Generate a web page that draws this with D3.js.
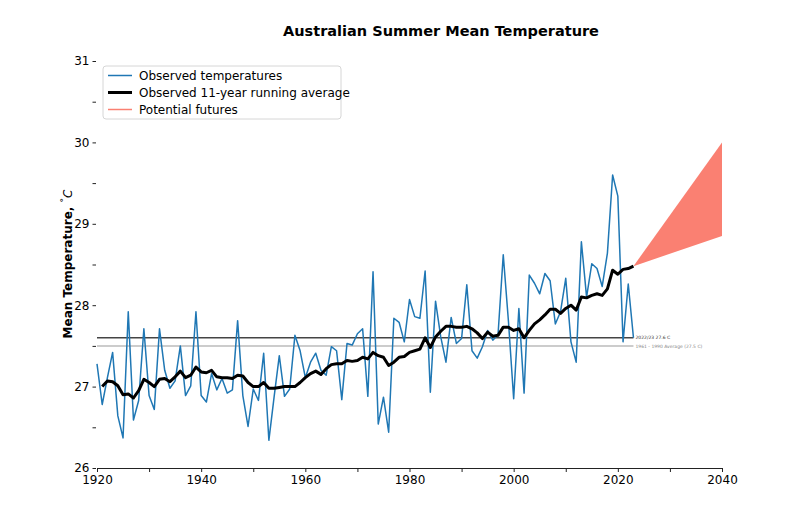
<!DOCTYPE html>
<html>
<head>
<meta charset="utf-8">
<script src="https://cdn.jsdelivr.net/npm/d3@7"></script>
<style>
  body { margin: 0; background: #fff; }
  text { font-family: "DejaVu Sans", sans-serif; }
</style>
</head>
<body>
<svg width="800" height="530"></svg>
<script>
const svg = d3.select('svg');

// observed summer means, 1920..2023
const obsYears = d3.range(1920, 2024);
const obsTemps = [
  27.28, 26.78, 27.11, 27.42, 26.64, 26.37, 27.92, 26.59, 26.83, 27.71,
  26.89, 26.72, 27.71, 27.2, 26.98, 27.07, 27.5, 26.89, 27.01, 27.92,
  26.89, 26.81, 27.16, 26.96, 27.1, 26.92, 26.96, 27.81, 26.89, 26.51,
  26.97, 26.83, 27.41, 26.34, 26.87, 27.38, 26.88, 26.97, 27.63, 27.44,
  27.11, 27.3, 27.41, 27.2, 27.14, 27.49, 27.44, 26.84, 27.53, 27.51,
  27.65, 27.71, 26.88, 28.41, 26.54, 26.87, 26.44, 27.84, 27.79, 27.55,
  28.07, 27.86, 27.84, 28.42, 26.93, 28.05, 27.61, 27.3, 27.85, 27.53,
  27.59, 28.25, 27.44, 27.35, 27.49, 27.69, 27.57, 27.64, 28.62, 27.8,
  26.85, 27.96, 26.92, 28.37, 28.27, 28.14, 28.39, 28.3, 27.77, 27.92,
  28.33, 27.55, 27.3, 28.78, 28.1, 28.51, 28.45, 28.23, 28.64, 29.6,
  29.34, 27.55, 28.26, 27.6
];

// 11-year running average, 1921..2023
const avgYears = d3.range(1921, 2024);
const avgTemps = [
  27.0, 27.07, 27.06, 27.01, 26.9, 26.91, 26.86, 26.95, 27.09,
  27.05, 27.0, 27.09, 27.1, 27.06, 27.12, 27.19, 27.11, 27.14, 27.24,
  27.18, 27.17, 27.2, 27.12, 27.11, 27.11, 27.1, 27.14, 27.13, 27.05,
  27.0, 27.0, 27.05, 26.98, 26.98, 26.99, 27.0, 27.0, 27.0, 27.05,
  27.11, 27.16, 27.19, 27.15, 27.22, 27.27, 27.28, 27.28, 27.32, 27.31,
  27.32, 27.36, 27.34, 27.42, 27.38, 27.36, 27.26, 27.3, 27.36, 27.37,
  27.42, 27.44, 27.46, 27.6, 27.48, 27.61, 27.68, 27.74, 27.74, 27.73,
  27.73, 27.74, 27.71, 27.66, 27.59, 27.67, 27.62, 27.63, 27.73, 27.73,
  27.69, 27.71, 27.6, 27.69, 27.77, 27.82, 27.88, 27.95, 27.95, 27.9,
  27.96, 28.0, 27.94, 28.1, 28.09, 28.12, 28.14, 28.12, 28.2, 28.43,
  28.38, 28.44, 28.45, 28.48
];

// potential futures wedge
const futureYears = [2023, 2040];
const futureLow = [28.48, 28.85];
const futureHigh = [28.48, 30.0];

const refLatest = 27.6;
const refBaseline = 27.5;

const xTicks = [1920, 1940, 1960, 1980, 2000, 2020, 2040];
const xMinor = [1930, 1950, 1970, 1990, 2010, 2030];
const yTicks = [26, 27, 28, 29, 30, 31];
const yMinor = [26.5, 27.5, 28.5, 29.5, 30.5];

const x = d3.scaleLinear().domain([1920, 2040]).range([97, 722]);
const y = d3.scaleLinear().domain([26, 31]).range([468, 61]);

// title
svg.append('text')
  .attr('x', 441).attr('y', 36)
  .attr('text-anchor', 'middle')
  .attr('font-size', 14.5).attr('font-weight', 'bold')
  .text('Australian Summer Mean Temperature');

// y label
const yl = svg.append('text')
  .attr('transform', 'translate(72,264) rotate(-90)')
  .attr('text-anchor', 'middle')
  .attr('font-size', 12).attr('font-weight', 'bold');
yl.append('tspan').text('Mean Temperature, ');
yl.append('tspan').attr('font-weight', 'normal').attr('font-size', 9).attr('dy', -5).text('°');
yl.append('tspan').attr('font-weight', 'normal').attr('font-style', 'italic').attr('dy', 5).text('C');

// x axis
const xAxis = svg.append('g')
  .attr('transform', `translate(0,${y(26)})`)
  .call(d3.axisBottom(x).tickValues(xTicks).tickFormat(d3.format('d')).tickSize(4).tickPadding(3));
xAxis.append('g')
  .call(d3.axisBottom(x).tickValues(xMinor).tickFormat('').tickSize(4))
  .select('.domain').remove();
xAxis.selectAll('text').attr('font-size', 12).attr('fill', '#000').style('font-family', 'DejaVu Sans');
xAxis.selectAll('path, line').attr('stroke', '#222');

// y axis, no spine
const yAxis = svg.append('g')
  .attr('transform', `translate(${x(1920) - 1},0)`)
  .call(d3.axisLeft(y).tickValues(yTicks).tickFormat(d3.format('d')).tickSize(3.5).tickPadding(3));
yAxis.append('g')
  .call(d3.axisLeft(y).tickValues(yMinor).tickFormat('').tickSize(3.5));
yAxis.selectAll('.domain').remove();
yAxis.selectAll('text').attr('font-size', 12).attr('fill', '#000').style('font-family', 'DejaVu Sans');
yAxis.selectAll('line').attr('stroke', '#222');

// reference lines
svg.append('line')
  .attr('x1', x(1920)).attr('x2', x(2023))
  .attr('y1', y(refBaseline)).attr('y2', y(refBaseline))
  .attr('stroke', '#bbbbbb').attr('stroke-width', 1.5);
svg.append('line')
  .attr('x1', x(1920)).attr('x2', x(2023))
  .attr('y1', y(refLatest)).attr('y2', y(refLatest))
  .attr('stroke', '#444444').attr('stroke-width', 1.5);
svg.append('text')
  .attr('x', x(2023) + 2).attr('y', y(refLatest) + 1.5)
  .attr('font-size', 4.5).attr('fill', '#333')
  .text('2022/23 27.6 C');
svg.append('text')
  .attr('x', x(2023) + 2).attr('y', y(refBaseline) + 2)
  .attr('font-size', 4.5).attr('fill', '#888')
  .text('1961 - 1990 Average (27.5 C)');

// futures
const area = d3.area()
  .x(i => x(futureYears[i]))
  .y0(i => y(futureLow[i]))
  .y1(i => y(futureHigh[i]));
svg.append('path')
  .attr('d', area(d3.range(futureYears.length)))
  .attr('fill', 'salmon');

// observed
const line = d3.line().x(d => x(d[0])).y(d => y(d[1]));
svg.append('path')
  .attr('d', line(d3.zip(obsYears, obsTemps)))
  .attr('fill', 'none').attr('stroke', '#1f77b4').attr('stroke-width', 1.5)
  .attr('stroke-linejoin', 'round');

svg.append('path')
  .attr('d', line(d3.zip(avgYears, avgTemps)))
  .attr('fill', 'none').attr('stroke', '#000').attr('stroke-width', 3)
  .attr('stroke-linejoin', 'round');

// legend
const leg = svg.append('g').attr('transform', 'translate(103,66)');
leg.append('rect')
  .attr('width', 238).attr('height', 53).attr('rx', 3)
  .attr('fill', '#fff').attr('fill-opacity', 0.8)
  .attr('stroke', '#d6d6d6').attr('stroke-width', 1);
const legItems = [
  { label: 'Observed temperatures', color: '#1f77b4', w: 1.5 },
  { label: 'Observed 11-year running average', color: '#000', w: 3 },
  { label: 'Potential futures', color: 'salmon', w: 1.5 }
];
legItems.forEach((d, i) => {
  const cy = 9.5 + i * 17;
  leg.append('line')
    .attr('x1', 5).attr('x2', 29).attr('y1', cy).attr('y2', cy)
    .attr('stroke', d.color).attr('stroke-width', d.w);
  leg.append('text')
    .attr('x', 36).attr('y', cy + 4.3)
    .attr('font-size', 12)
    .text(d.label);
});
</script>
</body>
</html>
